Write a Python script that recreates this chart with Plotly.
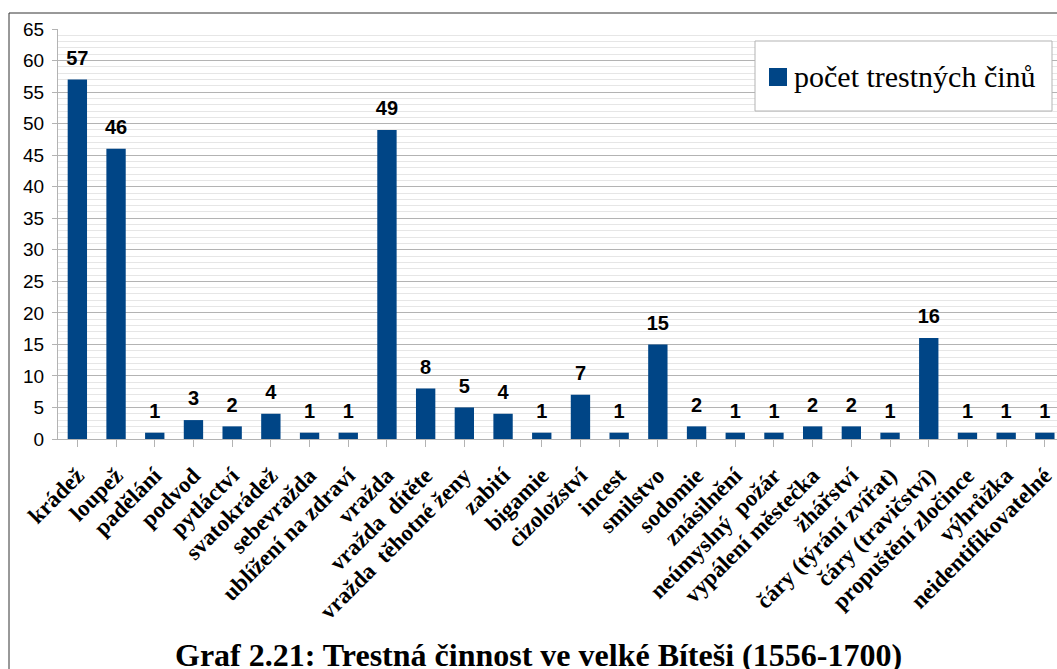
import plotly.graph_objects as go

categories = ["krádež", "loupež", "padělání", "podvod", "pytláctví", "svatokrádež",
              "sebevražda", "ublížení na zdraví", "vražda", "vražda  dítěte",
              "vražda  těhotné ženy", "zabití", "bigamie", "cizoložství", "incest",
              "smilstvo", "sodomie", "znásilnění", "neúmyslný  požár", "vypálení městečka",
              "žhářství", "čáry (týrání zvířat)", "čáry (travičství)", "propuštění zločince",
              "výhrůžka", "neidentifikovatelné"]
values = [57, 46, 1, 3, 2, 4, 1, 1, 49, 8, 5, 4, 1, 7, 1, 15, 2, 1, 1, 2, 2, 1, 16, 1, 1, 1]
series_name = "počet trestných činů"
title_text = "Graf 2.21: Trestná činnost ve velké Bíteši (1556-1700)"
bar_color = "#004586"

W, H = 1057, 669
L, T, B = 58, 29, 230
pw = W - L
ph = H - T - B

def px_x(x):
    return (x - L) / pw

def px_y(y):
    return (T + ph - y) / ph

fig = go.Figure()
fig.add_trace(go.Bar(
    x=list(range(len(categories))), y=values, name=series_name,
    marker=dict(color=bar_color, line=dict(width=0)),
    width=0.5, showlegend=False,
))
fig.add_trace(go.Scatter(
    x=list(range(len(categories))), y=values, mode="markers+text",
    marker=dict(size=14, color="rgba(0,0,0,0)"),
    text=["<b>" + str(v) + "</b>" for v in values], textposition="top center",
    textfont=dict(family="Liberation Sans", size=20, color="#000000"),
    cliponaxis=False, showlegend=False, hoverinfo="skip",
))

fig.update_layout(
    width=W, height=H,
    margin=dict(l=L, r=0, t=T, b=B, autoexpand=False),
    paper_bgcolor="white", plot_bgcolor="white",
    showlegend=False,
)
fig.update_xaxes(
    range=[-0.5, -0.5 + pw / 38.7],
    tickmode="array", tickvals=list(range(len(categories))),
    ticktext=["<b>" + c + "</b>" for c in categories],
    tickangle=-45, automargin=False, ticklabelstandoff=6,
    tickfont=dict(family="Liberation Serif", size=23, color="#000000"),
    ticks="outside", tickson="boundaries", ticklen=7, tickcolor="#b3b3b3",
    showline=True, linecolor="#b3b3b3", linewidth=1,
    showgrid=False, zeroline=False,
)
fig.update_yaxes(
    range=[0, 65], tickmode="linear", tick0=0, dtick=5, automargin=False,
    ticklabelstandoff=4,
    tickfont=dict(family="Liberation Sans", size=19, color="#000000"),
    ticks="outside", ticklen=5, tickcolor="#b3b3b3",
    showline=True, linecolor="#b3b3b3", linewidth=1,
    showgrid=True, gridcolor="#b3b3b3", gridwidth=1,
    minor=dict(dtick=1, showgrid=True, gridcolor="#e6e6e6", gridwidth=1),
    zeroline=False,
)

# outer frame
fig.add_shape(type="rect", xref="paper", yref="paper",
              x0=px_x(9), x1=1.02, y0=px_y(H + 5), y1=px_y(13),
              line=dict(color="#333333", width=1), fillcolor="rgba(0,0,0,0)", layer="below")

# legend box (drawn manually to match size)
fig.add_shape(type="rect", xref="paper", yref="paper",
              x0=px_x(755), x1=px_x(1052), y0=px_y(111), y1=px_y(41),
              line=dict(color="#b3b3b3", width=1), fillcolor="white", layer="above")
fig.add_shape(type="rect", xref="paper", yref="paper",
              x0=px_x(769), x1=px_x(787), y0=px_y(86), y1=px_y(68),
              line=dict(width=0), fillcolor=bar_color, layer="above")
fig.add_annotation(text=series_name, xref="paper", yref="paper",
                   x=px_x(792), y=px_y(76), xanchor="left", yanchor="middle",
                   showarrow=False,
                   font=dict(family="Liberation Serif", size=30, color="#000000"))

fig.add_annotation(text="<b>" + title_text + "</b>", xref="paper", yref="paper",
                   x=px_x(538), y=px_y(655), xanchor="center", yanchor="middle",
                   showarrow=False,
                   font=dict(family="Liberation Serif", size=32, color="#000000"))

fig.write_html("out.html", config={"displayModeBar": False},
               post_script="document.body.style.margin='0';document.body.style.overflow='hidden';")
